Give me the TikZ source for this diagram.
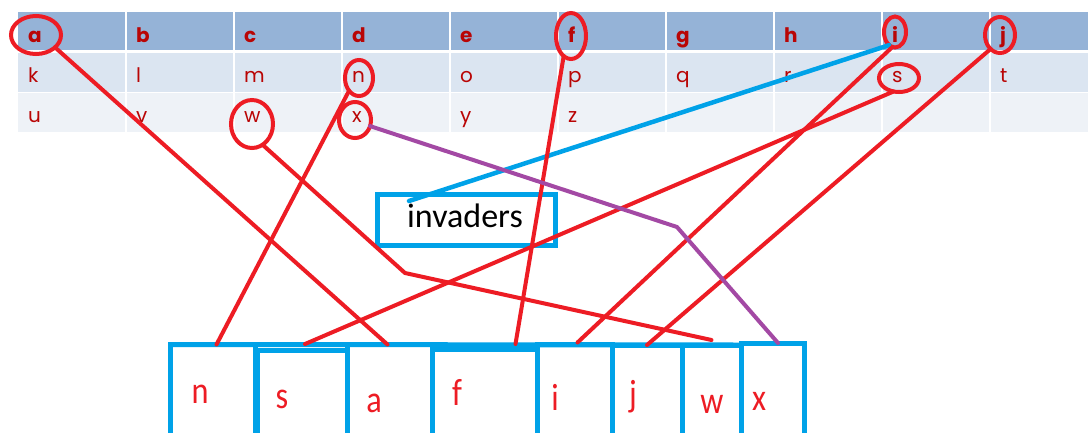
\documentclass[tikz,border=0pt]{standalone}
\usepackage{fontspec}
\usepackage{graphicx}
\usetikzlibrary{shapes.geometric}
\newfontfamily\tabfont{Poppins}
\newfontfamily\calfont{Carlito}
\definecolor{hdrbg}{RGB}{149,179,215}
\definecolor{rowbg}{RGB}{219,229,241}
\definecolor{rowbgb}{RGB}{238,242,247}
\definecolor{tabred}{RGB}{185,5,5}
\definecolor{penred}{RGB}{237,28,36}
\definecolor{penblue}{RGB}{0,162,232}
\definecolor{penpurple}{RGB}{163,73,164}
\tikzset{
  hdrtxt/.style={anchor=base west, inner sep=0pt, text=tabred, font=\tabfont\bfseries\fontsize{20}{20}\selectfont},
  celltxt/.style={anchor=base west, inner sep=0pt, text=tabred, font=\tabfont\fontsize{20}{20}\selectfont},
  ring/.style={ellipse, draw=penred, line width=4pt, inner sep=0pt, outer sep=0pt},
  redline/.style={draw=penred, line width=4pt, line cap=round, line join=round},
  blueline/.style={draw=penblue, line width=4.5pt, line cap=round},
  purpleline/.style={draw=penpurple, line width=4pt, line cap=round, line join=round},
  slot/.style={rectangle, draw=penblue, line width=5pt, inner sep=0pt, outer sep=0pt, minimum height=100pt, anchor=north west},
  slottxt/.style={anchor=base, inner sep=0pt, text=penred, font=\calfont\fontsize{38}{38}\selectfont},
}
\begin{document}
\begin{tikzpicture}[x=1pt,y=-1pt]
\clip (0,0) rectangle (1088,432);
\fill[white] (0,0) rectangle (1088,432);
% table
\fill[hdrbg] (18,12) rectangle (1088,50);
\fill[rowbg] (18,53) rectangle (1088,92);
\fill[rowbgb] (18,92) rectangle (1088,132);
\foreach \x in {126,234,342,450,558,666,774,882,990} \draw[white, line width=1.5pt] (\x,12) -- (\x,132);
\draw[white, line width=0.8pt] (18,92) -- (1088,92);
\foreach \t [count=\i from 0] in {a,b,c,d,e,f,g,h,i,j}
  \node[hdrtxt] (h\t) at (28+108*\i,42) {\t};
\foreach \t [count=\i from 0] in {k,l,m,n,o,p,q,r,s,t}
  \node[celltxt] (m\t) at (28+108*\i,82) {\t};
\foreach \t [count=\i from 0] in {u,v,w,x,y,z}
  \node[celltxt] (l\t) at (28+108*\i,122) {\t};
% circles
\node[ring, minimum width=50pt, minimum height=38pt] (ea) at (36,35) {};
\node[ring, minimum width=30pt, minimum height=46pt] (ef) at (571,36) {};
\node[ring, minimum width=22pt, minimum height=31pt] (ei) at (895,32) {};
\node[ring, minimum width=30pt, minimum height=36pt] (ej) at (1000,35) {};
\node[ring, minimum width=40pt, minimum height=28pt] (es) at (899,78) {};
\node[ring, minimum width=28pt, minimum height=36pt] (en) at (359,78) {};
\node[ring, minimum width=32pt, minimum height=36pt] (ex) at (355,120) {};
\node[ring, minimum width=42pt, minimum height=48pt] (ew) at (252,124) {};
% invaders box
\node[rectangle, draw=penblue, line width=5pt, inner sep=0pt, outer sep=0pt, minimum width=177.5pt, minimum height=51pt, anchor=north west] (invbox) at (377.5,194.5) {};
\node[anchor=base, inner sep=0pt, font=\calfont\fontsize{34}{34}\selectfont] (invtxt) at (465,227) {invaders};
% slots
\node[slot, minimum width=85pt] (bn) at (170,344.5) {};
\node[slot, minimum width=90pt] (bs) at (257,350) {};
\node[slot, minimum width=85pt] (ba) at (347,344.5) {};
\node[slot, minimum width=105pt] (bf) at (432,349) {};
\node[slot, minimum width=75pt] (bi) at (537,344.5) {};
\node[slot, minimum width=70pt] (bj) at (612,345) {};
\node[slot, minimum width=59pt] (bw) at (682,345) {};
\node[slot, minimum width=63pt] (bx) at (741,343) {};
\draw[draw=penblue, line width=5pt] (bn.north west) -- (bw.north east);
\node[slottxt] (tn) at (200,403) {\scalebox{0.85}[1]{n}};
\node[slottxt] (ts) at (282,408) {\scalebox{0.85}[1]{s}};
\node[slottxt] (ta) at (374,412) {\scalebox{0.85}[1]{a}};
\node[slottxt] (tf) at (457,405) {\scalebox{0.85}[1]{f}};
\node[slottxt] (ti) at (555,410) {\scalebox{0.85}[1]{i}};
\node[slottxt] (tj) at (633,406) {\scalebox{0.85}[1]{j}};
\node[slottxt] (tw) at (712,413) {\scalebox{0.85}[1]{w}};
\node[slottxt] (tx) at (759,410) {\scalebox{0.85}[1]{x}};
% connectors
\coordinate (wbend) at (405,273);
\coordinate (xbend) at (677,227);
\draw[blueline] (ei.-114) -- ([xshift=31.5pt,yshift=-6.5pt]invbox.north west);
\draw[redline] (ea.-33) -- ([xshift=-2pt]ba.north);
\draw[redline] (ef.-110) -- ([xshift=31pt,yshift=5pt]bf.north);
\draw[redline] (ei.-100) -- ([xshift=3pt,yshift=2pt]bi.north);
\draw[redline] (ej.-124) -- (bj.north);
\draw[redline] (en.-128) -- ([xshift=4pt]bn.north);
\draw[redline] (es.-112) -- ([xshift=3pt,yshift=6pt]bs.north);
\draw[redline] (ew.-63) -- (wbend) -- ([yshift=5pt]bw.north);
\draw[purpleline] (ex.-22) -- (xbend) -- ([xshift=5.5pt]bx.north);
\end{tikzpicture}
\end{document}
